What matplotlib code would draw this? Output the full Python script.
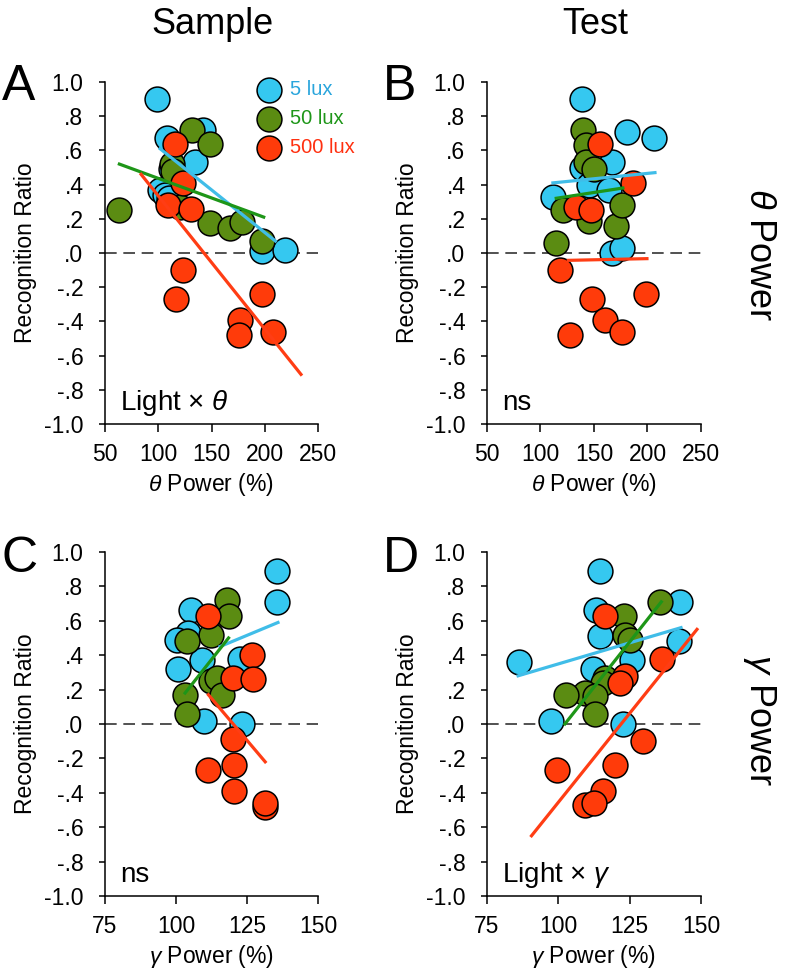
import numpy as np
import matplotlib
matplotlib.use('Agg')
import matplotlib.pyplot as plt

plt.rcParams['font.family'] = ['Liberation Sans', 'DejaVu Sans']
plt.rcParams['mathtext.fontset'] = 'custom'
plt.rcParams['mathtext.it'] = 'Liberation Sans:italic'
plt.rcParams['mathtext.rm'] = 'Liberation Sans'

# ---- data ----
groups = ['5 lux', '50 lux', '500 lux']

# A : sample, theta power
a_blue_x = [98.6, 108, 142, 134.6, 112, 101.7, 106, 110, 197, 219]
a_blue_y = [0.90, 0.67, 0.72, 0.53, 0.49, 0.37, 0.34, 0.32, 0.01, 0.02]
a_green_x = [63.5, 131.5, 148.7, 113, 114, 120, 148.7, 167.5, 178.5, 197]
a_green_y = [0.25, 0.72, 0.64, 0.52, 0.48, 0.27, 0.175, 0.146, 0.18, 0.07]
a_red_x = [115.8, 123, 109.6, 130.9, 123, 116.5, 197, 177, 175.4, 208]
a_red_y = [0.64, 0.41, 0.28, 0.26, -0.10, -0.27, -0.24, -0.39, -0.48, -0.46]

# B : test, theta power
b_blue_x = [138.6, 180.6, 206, 166.6, 138.6, 145, 163.6, 112, 166.6, 176]
b_blue_y = [0.90, 0.71, 0.67, 0.53, 0.50, 0.40, 0.37, 0.33, 0.00, 0.03]
b_green_x = [140, 143, 143, 150, 121.5, 145, 171, 176, 114.7]
b_green_y = [0.72, 0.63, 0.53, 0.49, 0.25, 0.185, 0.156, 0.28, 0.06]
b_red_x = [155.7, 186.8, 133, 147.6, 117.8, 148.2, 199, 160, 176, 127.8]
b_red_y = [0.64, 0.41, 0.27, 0.25, -0.10, -0.27, -0.24, -0.39, -0.46, -0.48]

# C : sample, gamma power
c_blue_x = [135.5, 135.5, 105.2, 104.4, 100.3, 109, 100.6, 122.6, 109.7, 123.3]
c_blue_y = [0.89, 0.71, 0.66, 0.53, 0.49, 0.37, 0.32, 0.38, 0.02, 0.00]
c_green_x = [117.9, 118.5, 112.4, 104, 112.2, 114.6, 116.1, 103.2, 103.8]
c_green_y = [0.72, 0.63, 0.52, 0.48, 0.25, 0.27, 0.17, 0.17, 0.06]
c_red_x = [111.4, 126.7, 120, 127, 120, 120.4, 111.4, 120.4, 131.2, 131.2]
c_red_y = [0.63, 0.40, 0.27, 0.26, -0.09, -0.24, -0.27, -0.39, -0.48, -0.46]

# D : test, gamma power
d_blue_x = [114.5, 113.3, 142.6, 114.5, 142.4, 86.2, 125.8, 112.1, 97.6, 122.5]
d_blue_y = [0.89, 0.66, 0.71, 0.51, 0.485, 0.36, 0.37, 0.32, 0.02, 0.00]
d_green_x = [135.6, 123, 123.3, 125, 116.4, 115.5, 109.3, 112.7, 102.8, 112.7]
d_green_y = [0.71, 0.63, 0.52, 0.49, 0.27, 0.24, 0.18, 0.16, 0.17, 0.06]
d_red_x = [116.5, 136.3, 123.3, 121.5, 129.7, 120, 99.6, 115.7, 109.3, 112.4]
d_red_y = [0.63, 0.38, 0.28, 0.24, -0.10, -0.24, -0.27, -0.39, -0.47, -0.46]

# regression line end points (x0, x1, y0, y1) per group
a_fits = [(101.7, 210, 0.61, 0.07), (63.5, 199, 0.52, 0.21), (83.9, 234, 0.46, -0.71)]
b_fits = [(111.6, 207, 0.41, 0.47), (114.7, 177, 0.32, 0.38), (126, 199.5, -0.043, -0.033)]
c_fits = [(115.5, 135.9, 0.45, 0.59), (103.2, 118.5, 0.18, 0.50), (111.4, 131.4, 0.17, -0.22)]
d_fits = [(85.9, 143, 0.28, 0.56), (102.3, 136.1, 0.0, 0.71), (90.6, 148.6, -0.65, 0.55)]

y_ticks = [1.0, 0.8, 0.6, 0.4, 0.2, 0.0, -0.2, -0.4, -0.6, -0.8, -1.0]
y_ticklabels = ['1.0', '.8', '.6', '.4', '.2', '.0', '-.2', '-.4', '-.6', '-.8', '-1.0']
theta_ticks = [50, 100, 150, 200, 250]
gamma_ticks = [75, 100, 125, 150]

fill_colors = ['#35C8F0', '#5B8C12', '#FF3B0A']
line_colors = ['#40BDE8', '#1E9618', '#FF3D14']
text_colors = ['#2AA5DC', '#1E9618', '#FF3010']


def draw_panel(ax, pts, fits, xticks, xlabel, note):
    ax.axhline(0, color='#333333', lw=1.2, ls=(0, (7, 4)), zorder=1)
    handles = []
    for (x, y), fc, lab in zip(pts, fill_colors, groups):
        h = ax.scatter(x, y, s=320, c=fc, edgecolors='black', linewidths=1.1,
                       zorder=2, label=lab)
        handles.append(h)
    for (x0, x1, y0, y1), lc in zip(fits, line_colors):
        ax.plot([x0, x1], [y0, y1], color=lc, lw=2.3, zorder=3)
    ax.set_xlim(xticks[0], xticks[-1])
    ax.set_ylim(-1, 1)
    ax.set_xticks(xticks)
    ax.set_yticks(y_ticks)
    ax.set_yticklabels(y_ticklabels)
    ax.spines['top'].set_visible(False)
    ax.spines['right'].set_visible(False)
    ax.spines['left'].set_linewidth(1.1)
    ax.spines['bottom'].set_linewidth(1.1)
    ax.tick_params(axis='y', direction='out', length=4.5, width=1.1, labelsize=16.5, pad=11)
    ax.tick_params(axis='x', direction='out', length=6, width=1.1, labelsize=16.5, pad=8)
    ax.set_xlabel(xlabel, fontsize=16.5, labelpad=3)
    ax.set_ylabel('Recognition Ratio', fontsize=16.5, labelpad=5)
    ax.text(0.07, 0.04, note, transform=ax.transAxes, fontsize=20, va='baseline')
    return handles


fig = plt.figure(figsize=(7.87, 9.74), dpi=100)
ax_a = fig.add_axes([0.1334, 0.5647, 0.2707, 0.3511])
ax_b = fig.add_axes([0.6188, 0.5647, 0.2719, 0.3511])
ax_c = fig.add_axes([0.1334, 0.0801, 0.2707, 0.3532])
ax_d = fig.add_axes([0.6188, 0.0801, 0.2719, 0.3532])

theta_lab = r'$\theta$ Power (%)'
gamma_lab = r'$\gamma$ Power (%)'

hs = draw_panel(ax_a, [(a_blue_x, a_blue_y), (a_green_x, a_green_y), (a_red_x, a_red_y)],
                a_fits, theta_ticks, theta_lab, r'Light × $\theta$')
draw_panel(ax_b, [(b_blue_x, b_blue_y), (b_green_x, b_green_y), (b_red_x, b_red_y)],
           b_fits, theta_ticks, theta_lab, 'ns')
draw_panel(ax_c, [(c_blue_x, c_blue_y), (c_green_x, c_green_y), (c_red_x, c_red_y)],
           c_fits, gamma_ticks, gamma_lab, 'ns')
draw_panel(ax_d, [(d_blue_x, d_blue_y), (d_green_x, d_green_y), (d_red_x, d_red_y)],
           d_fits, gamma_ticks, gamma_lab, r'Light × $\gamma$')

ax_a.legend(handles=hs, loc='upper left', bbox_to_anchor=(0.714, 1.005), frameon=False,
            fontsize=14.5, labelcolor=text_colors, scatterpoints=1, borderpad=0,
            borderaxespad=0, handletextpad=0.45, labelspacing=0.5, handlelength=1.2)

# column / row titles and panel letters
fig.text(212 / 787, 1 - 25 / 974, 'Sample', ha='center', va='center', fontsize=26)
fig.text(595 / 787, 1 - 25 / 974, 'Test', ha='center', va='center', fontsize=26)
fig.text(0.965, 1 - 255 / 974, r'$\theta$ Power', rotation=270, ha='center', va='center', fontsize=26)
fig.text(0.965, 1 - 720 / 974, r'$\gamma$ Power', rotation=270, ha='center', va='center', fontsize=26)
for letter, x, y in [('A', 2, 100), ('B', 383, 100), ('C', 2, 572), ('D', 383, 572)]:
    fig.text(x / 787, 1 - y / 974, letter, fontsize=36, ha='left', va='baseline')

plt.savefig('out.png', dpi=100)
